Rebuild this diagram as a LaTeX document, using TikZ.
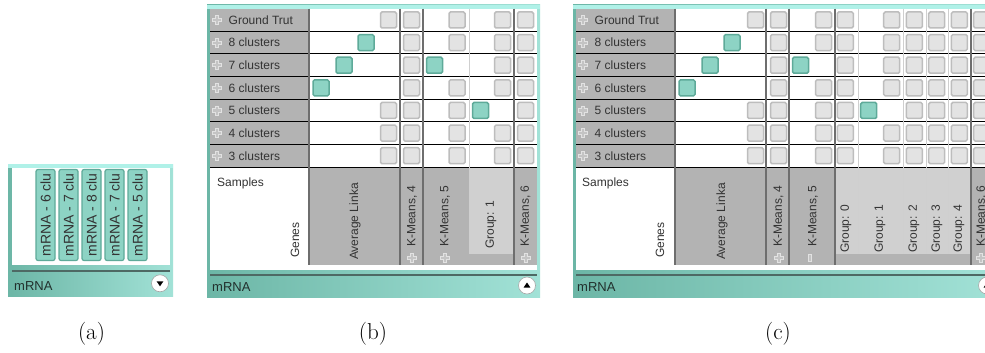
\documentclass[tikz,border=0pt]{standalone}
\usepackage{fontspec}
\newfontfamily\uifont{Liberation Sans}

\definecolor{panelL}{HTML}{6CB6A6}
\definecolor{panelR}{HTML}{A2E2D7}
\definecolor{rimtop}{HTML}{B0F1E8}
\definecolor{sepline}{HTML}{4E6964}
\definecolor{hdrgray}{HTML}{B3B3B3}
\definecolor{grplight}{HTML}{D0D0D0}
\definecolor{divdark}{HTML}{6E6E6E}
\definecolor{divlight}{HTML}{CFCFCF}
\definecolor{cellfill}{HTML}{E3E3E3}
\definecolor{celledge}{HTML}{BDBDBD}
\definecolor{tealfill}{HTML}{8DD3C4}
\definecolor{tealedge}{HTML}{5EAA99}
\definecolor{uitext}{HTML}{333333}
\definecolor{bartext}{HTML}{22302D}
\definecolor{plusfill}{HTML}{C4C4C4}
\definecolor{plusedge}{HTML}{E2E2E2}

\tikzset{
  ui/.style={font=\uifont\fontsize{12}{14}\selectfont, text=uitext, inner sep=0pt},
  rowtext/.style={ui, anchor=west},
  vtext/.style={ui, rotate=90, anchor=west},
  bartitle/.style={font=\uifont\fontsize{13}{15}\selectfont, text=bartext, inner sep=0pt, anchor=base west},
  tiletext/.style={font=\uifont\fontsize{14}{16}\selectfont, text=uitext, rotate=90, inner sep=0pt},
  tile/.style={draw=tealedge, fill=tealfill, line width=1.2pt, rounded corners=2pt},
  cellbox/.style={draw=celledge, fill=cellfill, line width=1.5pt, rounded corners=1.5pt},
  hitbox/.style={draw=tealedge, fill=tealfill, line width=1.5pt, rounded corners=1.5pt},
  darkdiv/.style={draw=divdark, line width=1.6pt},
  lightdiv/.style={draw=divlight, line width=1pt},
  rowline/.style={draw=black, line width=0.9pt},
  barsep/.style={draw=sepline, line width=1.3pt},
  button/.style={draw=gray!70, fill=white, line width=0.6pt},
  caption/.style={font=\fontsize{23}{26}\selectfont, anchor=base, inner sep=0pt},
  plusicon/.pic={
    \path[draw=plusedge, fill=plusfill, line width=0.8pt]
      (-1.6,-4.5) -- (1.6,-4.5) -- (1.6,-1.6) -- (4.5,-1.6) -- (4.5,1.6)
      -- (1.6,1.6) -- (1.6,4.5) -- (-1.6,4.5) -- (-1.6,1.6) -- (-4.5,1.6)
      -- (-4.5,-1.6) -- (-1.6,-1.6) -- cycle;
  },
}

% one square cell marker centred at (#1,#2)
\newcommand\cellat[3]{\path[#3] (#1-8,#2-8) rectangle (#1+8,#2+8);}
% a whole column of markers: grey at x=#1, except row #2 which is a hit at x=#3
\newcommand\colcells[3]{%
  \foreach \r in {0,...,6}{%
    \pgfmathsetmacro\yc{20+22.62*\r}%
    \ifnum\r=#2\relax \cellat{#3}{\yc}{hitbox}\else \cellat{#1}{\yc}{cellbox}\fi
  }}
% panel frame: left x, right x, top y, bottom y
\newcommand\panelframe[4]{%
  \fill[left color=panelL, right color=panelR] (#1,#3) rectangle (#2,#4);
  \fill[rimtop] (#1,#3) rectangle (#2,#3+3.7);
}

\begin{document}
\begin{tikzpicture}[x=1pt, y=-1pt]
\useasboundingbox (0,0) rectangle (985,353);
\clip (0,0) rectangle (985,353);
\fill[white] (0,0) rectangle (985,353);

% ---------------- panel (a): collapsed view ----------------
\panelframe{8}{173}{164}{296}
\fill[white] (12,167.7) rectangle (170,265);
\foreach \i/\t in {0/6,1/7,2/8,3/7,4/5}{
  \pgfmathsetmacro\tx{45.5+23*\i}
  \path[tile] (\tx-9.5,169.5) rectangle (\tx+9.5,260.5);
  \node[tiletext] (tileA\i) at (\tx,215) {mRNA - \t\ clu};
}
\draw[barsep] (12,271) -- (170,271);
\node[bartitle] (titleA) at (14,290) {mRNA};
\node[button, circle, minimum size=17pt, inner sep=0pt] (btnA) at (160,283.3) {};
\fill[black] (btnA.center) ++(-3.4,-2) -- ++(6.8,0) -- ++(-3.4,5) -- cycle;

% ---------------- panel (b): partly expanded ----------------
\panelframe{207}{540}{5}{297}
\fill[white] (210,8.7) rectangle (537,270);
\fill[hdrgray] (210,8.7) rectangle (309,167);
\fill[hdrgray] (309,167) rectangle (537,265);
\fill[grplight] (469,167) rectangle (514,254);
% cell markers
\foreach \r/\x/\s in {0/388.5/cellbox,1/366/hitbox,2/344/hitbox,3/321/hitbox,
                      4/388.5/cellbox,5/388.5/cellbox,6/388.5/cellbox}{
  \pgfmathsetmacro\yc{20+22.62*\r}\cellat{\x}{\yc}{\s}}
\colcells{411.5}{-1}{0}
\colcells{457}{2}{434.5}
\colcells{502.5}{4}{480.5}
\colcells{525.5}{-1}{0}
% row rules
\foreach \k in {1,...,7}{
  \pgfmathsetmacro\yl{8.7+22.62*\k}
  \draw[rowline] (210,\yl) -- (537,\yl);}
% column rules
\draw[lightdiv] (469,8.7) -- (469,254);
\foreach \x in {309,400,423,514}{\draw[darkdiv] (\x,8.7) -- (\x,265);}
% row labels
\foreach \i/\t in {0/Ground Trut,1/8 clusters,2/7 clusters,3/6 clusters,
                   4/5 clusters,5/4 clusters,6/3 clusters}{
  \pgfmathsetmacro\yc{20+22.62*\i}
  \pic at (217,\yc) {plusicon};
  \node[rowtext] (rowB\i) at (228.5,\yc) {\t};
}
% corner and column headers
\node[rowtext] (samplesB) at (217,183) {Samples};
\node[vtext] (genesB) at (295,258) {Genes};
\node[vtext] (avgB) at (355,260) {Average Linka};
\node[vtext] (km4B) at (412,247) {K-Means, 4};
\node[vtext] (km5B) at (445,247) {K-Means, 5};
\node[vtext] (grp1B) at (491,249) {Group: 1};
\node[vtext] (km6B) at (525.5,247) {K-Means, 6};
\foreach \x in {412,445,525.5}{\pic at (\x,258) {plusicon};}
% footer bar
\draw[barsep] (210,275) -- (537,275);
\node[bartitle] (titleB) at (212,291) {mRNA};
\node[button, circle, minimum size=17pt, inner sep=0pt] (btnB) at (527,285.5) {};
\fill[black] (btnB.center) ++(-3.4,2) -- ++(6.8,0) -- ++(-3.4,-5) -- cycle;

% ---------------- panel (c): fully expanded ----------------
\panelframe{573}{1000}{5}{297}
\fill[white] (576,8.7) rectangle (1000,270);
\fill[hdrgray] (576,8.7) rectangle (675,167);
\fill[hdrgray] (675,167) rectangle (1000,265);
\fill[grplight] (835,167) rectangle (971,254);
% cell markers
\foreach \r/\x/\s in {0/755.5/cellbox,1/732/hitbox,2/710/hitbox,3/687/hitbox,
                      4/755.5/cellbox,5/755.5/cellbox,6/755.5/cellbox}{
  \pgfmathsetmacro\yc{20+22.62*\r}\cellat{\x}{\yc}{\s}}
\colcells{778.5}{-1}{0}
\colcells{823.5}{2}{800.5}
\colcells{845.3}{-1}{0}
\colcells{891.7}{4}{868.7}
\colcells{914.3}{-1}{0}
\colcells{936.7}{-1}{0}
\colcells{959.3}{-1}{0}
\colcells{981.7}{-1}{0}
% row rules
\foreach \k in {1,...,7}{
  \pgfmathsetmacro\yl{8.7+22.62*\k}
  \draw[rowline] (576,\yl) -- (1000,\yl);}
% column rules
\foreach \x in {858,903,926,948}{\draw[lightdiv] (\x,8.7) -- (\x,254);}
\foreach \x in {675,766,789,835,971}{\draw[darkdiv] (\x,8.7) -- (\x,265);}
% row labels
\foreach \i/\t in {0/Ground Trut,1/8 clusters,2/7 clusters,3/6 clusters,
                   4/5 clusters,5/4 clusters,6/3 clusters}{
  \pgfmathsetmacro\yc{20+22.62*\i}
  \pic at (583,\yc) {plusicon};
  \node[rowtext] (rowC\i) at (594.5,\yc) {\t};
}
% corner and column headers
\node[rowtext] (samplesC) at (582,183) {Samples};
\node[vtext] (genesC) at (660,258) {Genes};
\node[vtext] (avgC) at (722,260) {Average Linka};
\node[vtext] (km4C) at (778.5,247) {K-Means, 4};
\node[vtext] (km5C) at (813,247) {K-Means, 5};
\foreach \i/\x in {0/846,1/880,2/914,3/937,4/959}{
  \node[vtext] (grpC\i) at (\x,253) {Group: \i};}
\node[vtext] (km6C) at (981.5,247) {K-Means, 6};
\foreach \x in {778.5,981}{\pic at (\x,258) {plusicon};}
\path[draw=plusedge, fill=plusfill, line width=0.8pt] (808,254.5) rectangle (811,261.5);
% footer bar
\draw[barsep] (576,275) -- (1000,275);
\node[bartitle] (titleC) at (577,291) {mRNA};
\node[button, circle, minimum size=17pt, inner sep=0pt] (btnC) at (987,285.5) {};
\fill[black] (btnC.center) ++(-3.4,2) -- ++(6.8,0) -- ++(-3.4,-5) -- cycle;

% ---------------- captions ----------------
\node[caption] (capA) at (91.5,339) {(a)};
\node[caption] (capB) at (373,339) {(b)};
\node[caption] (capC) at (778,339) {(c)};
\end{tikzpicture}
\end{document}
